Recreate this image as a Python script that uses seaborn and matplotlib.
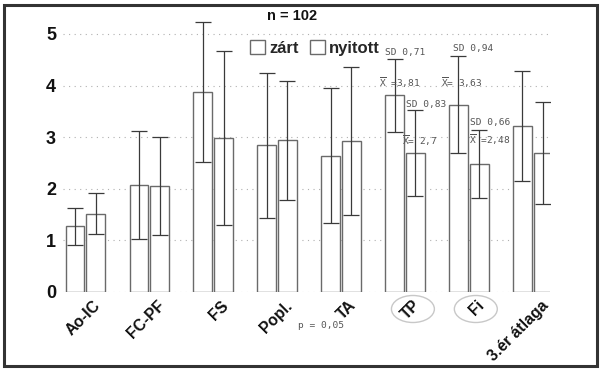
import numpy as np
import pandas as pd
import matplotlib
matplotlib.use("Agg")
import matplotlib.pyplot as plt
import matplotlib.transforms as mtrans
from matplotlib.patches import Ellipse, Rectangle
import seaborn as sns

categories = ["Ao-IC", "FC-PF", "FS", "Popl.", "TA", "TP", "Fi", "3.ér átlaga"]
groups = ["zárt", "nyitott"]
mean_zart = [1.27, 2.07, 3.87, 2.84, 2.64, 3.81, 3.63, 3.22]
sd_zart = [0.35, 1.05, 1.36, 1.40, 1.31, 0.71, 0.94, 1.07]
mean_nyitott = [1.52, 2.05, 2.99, 2.94, 2.93, 2.70, 2.48, 2.69]
sd_nyitott = [0.40, 0.95, 1.69, 1.15, 1.44, 0.83, 0.66, 0.99]
yticks = [0, 1, 2, 3, 4, 5]

sns.set_theme(style="white")
plt.rcParams["font.family"] = ["Liberation Sans", "DejaVu Sans"]

df = pd.DataFrame({
    "cat": categories * 2,
    "grp": [groups[0]] * len(categories) + [groups[1]] * len(categories),
    "val": mean_zart + mean_nyitott,
})

W, H = 600, 372
fig = plt.figure(figsize=(W / 100, H / 100), dpi=100)
ax = fig.add_axes([63 / W, 1 - 292 / H, (550 - 63) / W, 5.45 * 51.6 / H])

sns.barplot(data=df, x="cat", y="val", hue="grp", palette=["white", "white"],
            edgecolor="#6a6a6a", linewidth=1.0, width=0.65, gap=0.1,
            errorbar=None, ax=ax, zorder=2)

sds = [sd_zart, sd_nyitott]
for cont, sd in zip(ax.containers, sds):
    xs = [b.get_x() + b.get_width() / 2 for b in cont]
    hs = [b.get_height() for b in cont]
    ax.errorbar(xs, hs, yerr=sd, fmt="none", ecolor="#3a3a3a", elinewidth=0.9,
                capsize=5.5, capthick=0.9, zorder=3)

ax.set_xlim(-0.35, 7.27)
ax.set_ylim(0, 5.45)
ax.set_yticks(yticks)
ax.set_xlabel("")
ax.set_ylabel("")
for s in ax.spines.values():
    s.set_visible(False)
ax.yaxis.grid(True, linestyle=(0, (1, 4)), color="#b0b0b0", linewidth=0.8)
ax.xaxis.grid(False)
ax.set_axisbelow(True)
ax.tick_params(axis="both", length=0)
ax.tick_params(axis="y", pad=5)
ax.tick_params(axis="x", pad=8)
for lab in ax.get_yticklabels():
    lab.set_fontweight("bold")
    lab.set_fontsize(13)
    lab.set_color("#111111")

ax.set_xticks(range(len(categories)))
ax.set_xticklabels(categories, rotation=45, ha="right", va="center",
                   rotation_mode="anchor", fontweight="bold", fontsize=11.3, color="#111111")
off = mtrans.ScaledTranslation(13 / 100, 0, fig.dpi_scale_trans)
for lab in ax.get_xticklabels():
    lab.set_transform(lab.get_transform() + off)

sns.move_legend(ax, "center", bbox_to_anchor=((315 - 63) / 487, (292 - 48) / 281.2),
                ncol=2, frameon=False, title=None, handlelength=0.9, handleheight=0.9,
                columnspacing=0.7, handletextpad=0.25,
                prop={"weight": "bold", "size": 12})
leg = ax.get_legend()
for p in leg.get_patches():
    p.set_edgecolor("#6a6a6a")
    p.set_facecolor("white")

# annotations
mono = dict(family="DejaVu Sans Mono", fontsize=6.8, color="#555555", va="center", ha="left")
XB = r"$\overline{\mathtt{X}}$"
def ftext(x, y, s, **kw):
    fig.text(x / W, 1 - y / H, s, **kw)

ftext(385, 52, "SD 0,71", **mono)
ftext(379, 83, XB + " =3,81", **mono)
ftext(406, 104, "SD 0,83", **mono)
ftext(402, 141, XB + "= 2,7", **mono)
ftext(453, 48, "SD 0,94", **mono)
ftext(441, 83, XB + "= 3,63", **mono)
ftext(470, 123, "SD 0,66", **mono)
ftext(469, 140, XB + " =2,48", **mono)
ftext(298, 326, "p = 0,05", **mono)
ftext(292, 16, "n = 102", fontsize=10.5, fontweight="bold", ha="center", va="center", color="#111111")

# ellipses around TP and Fi
bt = mtrans.blended_transform_factory(ax.transData, fig.transFigure)
for xc in [5 + 8 / 64, 6 + 7 / 64]:
    e = Ellipse((xc, 1 - 309 / H), width=43 / 64, height=27 / H, transform=bt,
                fill=False, edgecolor="#c8c8c8", linewidth=1.0, clip_on=False)
    fig.add_artist(e)

# figure frame
fig.add_artist(Rectangle((4 / W, 1 - 366 / H), (597 - 4) / W, (366 - 5) / H,
                         transform=fig.transFigure, fill=False, edgecolor="#333333",
                         linewidth=2.2))

fig.savefig("out.png", dpi=100)
